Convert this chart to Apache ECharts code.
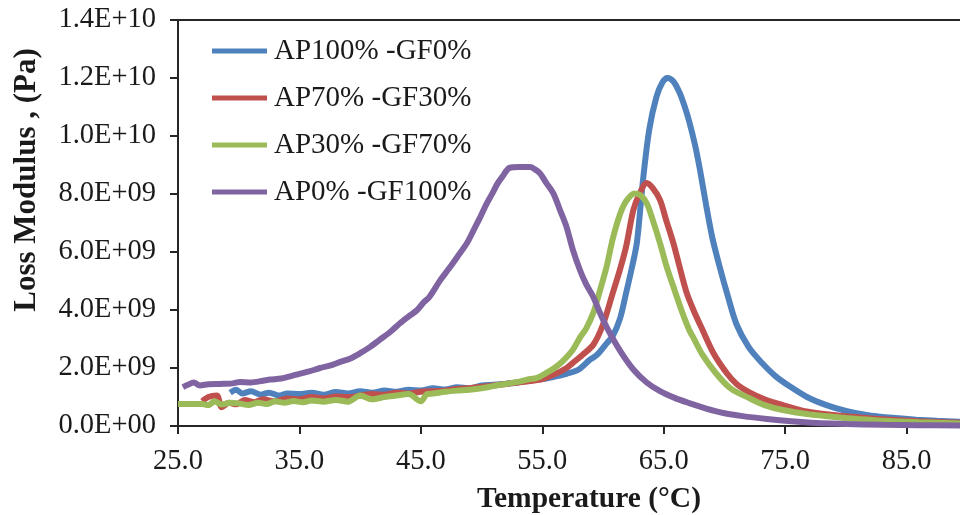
<!DOCTYPE html>
<html>
<head>
<meta charset="utf-8">
<script src="https://cdn.jsdelivr.net/npm/echarts@6/dist/echarts.min.js"></script>
<style>html,body{margin:0;padding:0;background:#fff}#c{width:960px;height:515px}</style>
</head>
<body>
<div id="c"></div>
<script>
const seriesNames = ['AP100% -GF0%', 'AP70% -GF30%', 'AP30% -GF70%', 'AP0% -GF100%'];
const xTitle = 'Temperature (°C)';
const yTitle = 'Loss Modulus , (Pa)';
const xMin = 25, xMax = 89.4, xStep = 10;
const yMin = 0, yMax = 1.4e10, yStep = 2e9;
const unit = 1e9;

const blueT = [29.3,29.8,30.3,31,31.8,32.5,33.3,34,35,36,37,38,39,40,41,42,43,44,45,46,47,48,49,50,51,52,53,54,55,56,57,58,58.9,59.5,60.3,60.8,61.4,61.9,62.4,62.8,63.3,63.8,64.4,64.9,65.3,65.8,66.3,66.7,67.1,67.6,68.0,68.5,69.0,69.6,70.3,71.0,72.0,73.1,74.2,75.4,76.8,78.4,80.0,81.7,83.5,85.8,87.5,89.4];
const blueV = [1.15,1.25,1.12,1.2,1.08,1.15,1.05,1.12,1.1,1.15,1.08,1.17,1.12,1.2,1.15,1.22,1.18,1.25,1.22,1.3,1.26,1.34,1.3,1.4,1.42,1.46,1.5,1.58,1.62,1.7,1.8,1.95,2.28,2.45,2.85,3.1,3.7,4.58,5.5,6.35,8.5,10.2,11.35,11.85,12.0,11.88,11.5,11.05,10.5,9.65,8.8,7.6,6.5,5.5,4.45,3.5,2.72,2.17,1.72,1.36,1.0,0.72,0.52,0.38,0.29,0.22,0.18,0.15];

const redT = [27.0,27.5,28.2,28.6,29.2,29.8,30.5,31.3,32,33,34,35,36,37,38,39,40,41,42,43,44,45,46,47,48,49,50,51,52,53,54,55,56,57,57.5,58.3,59.2,60.0,60.8,61.4,61.9,62.5,63.0,63.6,64.1,64.7,65.2,65.8,66.3,66.9,67.5,68.2,69.1,70.2,71.0,72.1,73.3,74.8,76.5,78.9,81,83,86,89.4];
const redV = [0.85,1.0,1.05,0.65,0.8,0.75,0.9,0.82,0.92,0.85,0.95,0.92,1.0,0.95,1.02,1.0,1.05,1.1,1.08,1.15,1.12,1.18,1.2,1.22,1.28,1.3,1.35,1.4,1.45,1.5,1.55,1.62,1.78,2.0,2.17,2.45,2.8,3.5,4.58,5.4,6.18,7.45,8.0,8.38,8.2,7.79,7.1,6.3,5.5,4.58,3.95,3.31,2.51,1.82,1.45,1.15,0.92,0.72,0.52,0.38,0.3,0.23,0.16,0.11];

const greenT = [25.0,26,27,27.5,28,28.6,29.3,30,30.8,31.6,32.3,33,33.8,34.5,35.3,36,37,38,39,40,41,42,43,44,45,45.5,46,47,48,49,50,51,52,53,54,54.5,55.3,56,56.6,57.5,58.1,58.6,59.2,59.7,60.3,60.8,61.4,61.9,62.6,63.1,63.6,64.1,64.7,65.2,65.8,66.5,67.1,67.4,68.2,69.3,70.5,72.1,73.3,74.8,77,78.9,81,83,86,89.4];
const greenV = [0.76,0.76,0.76,0.72,0.85,0.74,0.8,0.78,0.72,0.8,0.76,0.85,0.8,0.86,0.82,0.88,0.84,0.9,0.84,1.05,0.92,1.0,1.05,1.1,0.85,1.1,1.12,1.18,1.22,1.25,1.3,1.38,1.45,1.52,1.62,1.65,1.82,2.0,2.2,2.62,3.05,3.35,3.9,4.6,5.5,6.45,7.3,7.75,8.02,7.95,7.68,7.1,6.3,5.55,4.8,3.95,3.31,3.08,2.45,1.82,1.3,0.95,0.72,0.55,0.4,0.32,0.24,0.18,0.13,0.09];

const purpleT = [25.4,25.8,26.3,26.8,27.5,28.5,29.5,30.1,31,32,32.6,33.5,34.3,35,35.8,36.7,37.5,38.3,39.2,40,40.8,41.6,42.5,43.3,44,44.7,45.2,45.7,46.6,47.3,48.0,48.8,49.4,49.9,50.4,50.9,51.3,51.7,52.3,53.1,54.0,54.4,54.8,55.3,55.9,56.5,57.0,57.5,58.1,58.6,59.2,59.7,60.3,61.4,62.5,63.6,64.7,65.9,67.1,68.5,69.9,71.5,73.5,75.5,77.6,80,83,86,89.4];
const purpleV = [1.34,1.42,1.5,1.4,1.44,1.45,1.47,1.52,1.5,1.56,1.6,1.64,1.72,1.8,1.88,2.0,2.08,2.2,2.33,2.51,2.72,2.97,3.25,3.55,3.78,4.0,4.25,4.45,5.03,5.42,5.83,6.31,6.8,7.21,7.65,8.03,8.35,8.59,8.9,8.93,8.93,8.85,8.72,8.4,8.03,7.4,6.86,6.1,5.38,4.9,4.45,3.95,3.41,2.6,1.95,1.5,1.2,0.97,0.79,0.6,0.45,0.34,0.24,0.16,0.1,0.07,0.04,0.03,0.02];

const colors = ['#4f81bd', '#c0504d', '#9bbb59', '#8064a2'];
const allT = [blueT, redT, greenT, purpleT];
const allV = [blueV, redV, greenV, purpleV];

const font = 'Liberation Serif';
const ink = '#1a1a1a';

function yFmt(v) {
  const s = v.toExponential(1).toUpperCase();
  const m = s.match(/^(.*)E([+-])(\d+)$/);
  return m[1] + 'E' + m[2] + (m[3].length < 2 ? '0' + m[3] : m[3]);
}

const chart = echarts.init(document.getElementById('c'), null, {renderer: 'canvas'});
chart.setOption({
  animation: false,
  backgroundColor: '#fff',
  color: colors,
  grid: {left: 178, right: 0, top: 20, bottom: 89, containLabel: false, outerBoundsMode: 'none'},
  legend: {
    orient: 'vertical', left: 212, top: 36, padding: 0, itemWidth: 55, itemHeight: 5, itemGap: 17,
    icon: 'rect',
    data: seriesNames,
    textStyle: {fontFamily: font, fontSize: 29, color: ink, lineHeight: 30, padding: [0,0,0,2]}
  },
  xAxis: [{
    type: 'value', min: xMin, max: xMax, interval: xStep,
    name: xTitle, nameLocation: 'middle', nameGap: 58,
    nameTextStyle: {fontFamily: font, fontSize: 29.5, fontWeight: 'bold', color: ink, padding: [0,0,0,40]},
    axisLine: {show: true, onZero: false, lineStyle: {color: '#262626', width: 2}},
    axisTick: {show: true, inside: false, length: 8, lineStyle: {color: '#262626', width: 2}},
    axisLabel: {fontFamily: font, fontSize: 28.5, color: ink, margin: 21, formatter: v => v.toFixed(1), showMaxLabel: false},
    splitLine: {show: false}
  }, {
    type: 'value', min: xMin, max: xMax, position: 'top',
    axisLine: {show: true, onZero: false, lineStyle: {color: '#262626', width: 2}},
    axisTick: {show: false}, axisLabel: {show: false}, splitLine: {show: false}
  }],
  yAxis: {
    type: 'value', min: yMin, max: yMax, interval: yStep,
    name: yTitle, nameLocation: 'middle', nameGap: 136,
    nameTextStyle: {fontFamily: font, fontSize: 31, fontWeight: 'bold', color: ink, padding: [0,0,0,86]},
    axisLine: {show: true, onZero: false, lineStyle: {color: '#262626', width: 2}},
    axisTick: {show: true, inside: false, length: 8, lineStyle: {color: '#262626', width: 2}},
    axisLabel: {fontFamily: font, fontSize: 28.5, color: ink, margin: 22, formatter: yFmt},
    splitLine: {show: false}
  },
  series: seriesNames.map((n, i) => ({
    name: n, type: 'line', showSymbol: false, symbol: 'none', smooth: 0.3,
    lineStyle: {width: 6, color: colors[i]}, itemStyle: {color: colors[i]},
    data: allT[i].map((t, k) => [t, allV[i][k] * unit])
  }))
});
</script>
</body>
</html>
